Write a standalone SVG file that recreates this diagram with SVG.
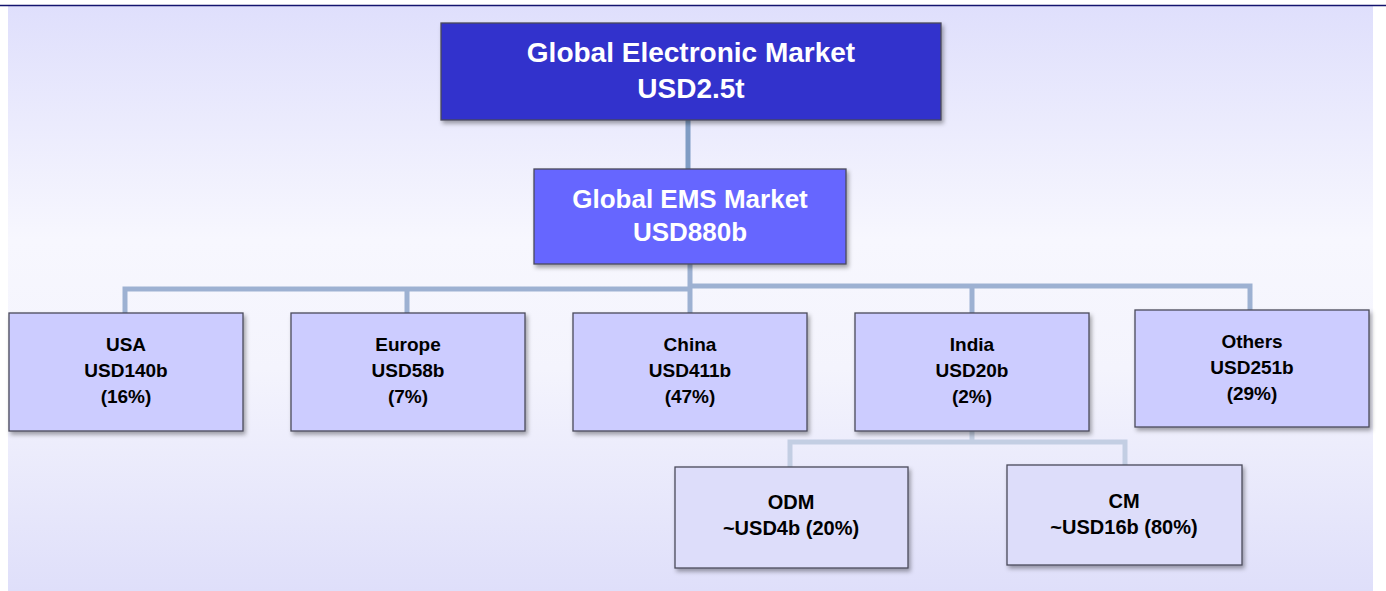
<svg xmlns="http://www.w3.org/2000/svg" width="1386" height="591" viewBox="0 0 1386 591">
<defs>
<linearGradient id="bg" x1="0" y1="0" x2="0" y2="1">
<stop offset="0" stop-color="#DFDFFC"/>
<stop offset="0.4" stop-color="#F7F7FE"/>
<stop offset="0.62" stop-color="#F4F4FD"/>
<stop offset="1" stop-color="#DFDFFA"/>
</linearGradient>
<filter id="sh" x="-10%" y="-10%" width="125%" height="135%">
<feDropShadow dx="2" dy="3" stdDeviation="2" flood-color="#000" flood-opacity="0.35"/>
</filter>
<style>
.box{stroke:#4a4a5a;stroke-width:1.3;filter:url(#sh)}
.top{fill:#3333CC}
.ems{fill:#6666FF}
.reg{fill:#CCCCFF}
.sub{fill:#DDDDFA}
.wt{fill:#fff;font-family:"Liberation Sans",Arial,sans-serif;font-weight:bold;text-anchor:middle}
.bt{fill:#000;font-family:"Liberation Sans",Arial,sans-serif;font-weight:bold;text-anchor:middle;font-size:19px}
.bs{font-size:20px}
.c1{stroke:#9DB1D2;stroke-width:5;fill:none}
.c0{stroke:#7F9CC4;stroke-width:5;fill:none}
.c2{stroke:#C3CEE3;stroke-width:5;fill:none}
</style>
</defs>
<rect x="0" y="0" width="1386" height="591" fill="#fff"/>
<rect x="8" y="6" width="1365" height="585" fill="url(#bg)"/>
<line x1="0" y1="5.5" x2="1386" y2="5.5" stroke="#14146E" stroke-width="1.5"/>

<g id="connectors">
<line class="c0" x1="688" y1="120" x2="688" y2="169"/>
<line class="c1" x1="690" y1="264" x2="690" y2="313"/>
<polyline class="c1" points="125,313 125,289 690,289"/>
<line class="c1" x1="407" y1="289" x2="407" y2="313"/>
<polyline class="c1" points="690,286 1250,286 1250,310"/>
<line class="c1" x1="972" y1="286" x2="972" y2="313"/>
<line class="c2" x1="972" y1="431" x2="972" y2="443"/>
<polyline class="c2" points="790,467 790,442 1125,442 1125,465"/>
</g>

<g id="n-global">
<rect class="box top" x="441" y="23" width="500" height="97"/>
<text class="wt" font-size="28" x="691" y="62">Global Electronic Market</text>
<text class="wt" font-size="28" x="691" y="98">USD2.5t</text>
</g>

<g id="n-ems">
<rect class="box ems" x="534" y="169" width="312" height="95"/>
<text class="wt" font-size="26" x="690" y="208">Global EMS Market</text>
<text class="wt" font-size="26" x="690" y="241">USD880b</text>
</g>

<g id="n-usa">
<rect class="box reg" x="9" y="313" width="234" height="118"/>
<text class="bt" x="126" y="351">USA</text>
<text class="bt" x="126" y="377">USD140b</text>
<text class="bt" x="126" y="403">(16%)</text>
</g>

<g id="n-europe">
<rect class="box reg" x="291" y="313" width="234" height="118"/>
<text class="bt" x="408" y="351">Europe</text>
<text class="bt" x="408" y="377">USD58b</text>
<text class="bt" x="408" y="403">(7%)</text>
</g>

<g id="n-china">
<rect class="box reg" x="573" y="313" width="234" height="118"/>
<text class="bt" x="690" y="351">China</text>
<text class="bt" x="690" y="377">USD411b</text>
<text class="bt" x="690" y="403">(47%)</text>
</g>

<g id="n-india">
<rect class="box reg" x="855" y="313" width="234" height="118"/>
<text class="bt" x="972" y="351">India</text>
<text class="bt" x="972" y="377">USD20b</text>
<text class="bt" x="972" y="403">(2%)</text>
</g>

<g id="n-others">
<rect class="box reg" x="1135" y="310" width="234" height="117"/>
<text class="bt" x="1252" y="348">Others</text>
<text class="bt" x="1252" y="374">USD251b</text>
<text class="bt" x="1252" y="400">(29%)</text>
</g>

<g id="n-odm">
<rect class="box sub" x="675" y="467" width="233" height="101"/>
<text class="bt bs" x="791" y="509">ODM</text>
<text class="bt bs" x="791" y="535">~USD4b (20%)</text>
</g>

<g id="n-cm">
<rect class="box sub" x="1007" y="465" width="235" height="100"/>
<text class="bt bs" x="1124" y="508">CM</text>
<text class="bt bs" x="1124" y="534">~USD16b (80%)</text>
</g>
</svg>
